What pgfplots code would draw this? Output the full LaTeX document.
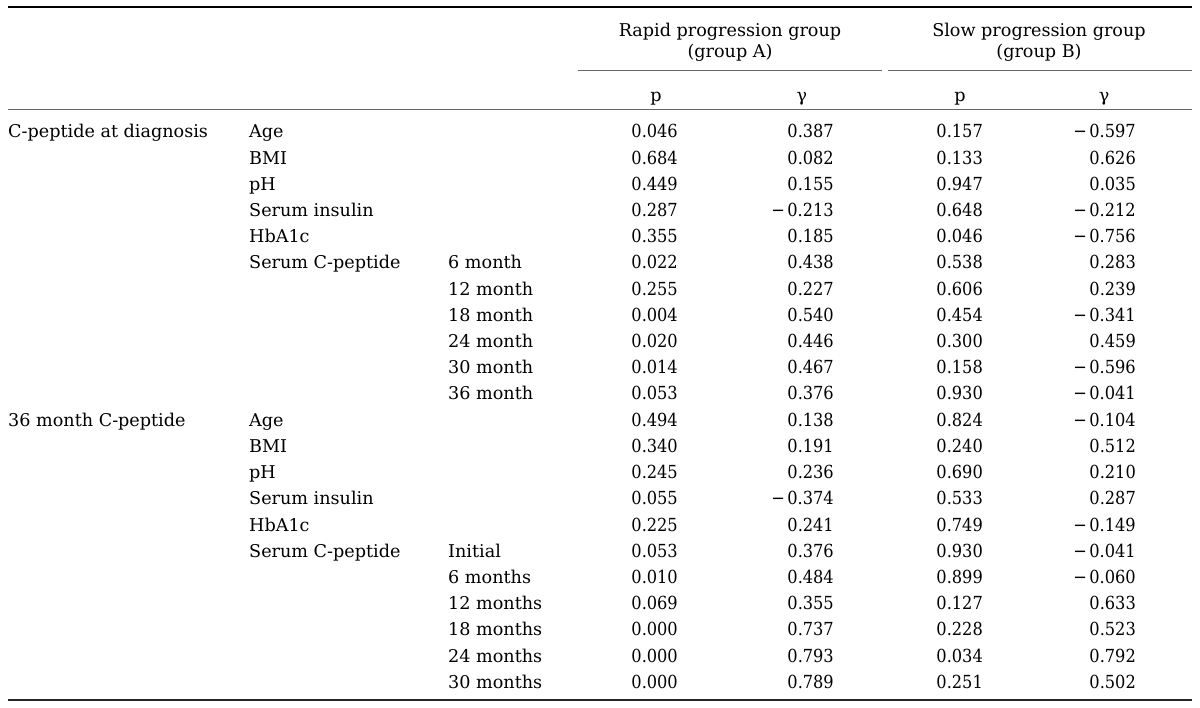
\documentclass[border=0pt]{standalone}
\usepackage{pgfplots}
\pgfplotsset{compat=1.18}
\usepackage{pgfplotstable}
\usepackage{fontspec}
\setmainfont{DejaVu Serif}
\newfontfamily\numfont{DejaVu Serif Condensed}

\pgfplotstableread[col sep=comma]{
y,c1,c2,c3,pA,gA,pB,gB
138.0,C-peptide at diagnosis,Age,,0.046,0.387,0.157,−\kern2.5pt0.597
164.2,,BMI,,0.684,0.082,0.133,0.626
190.4,,pH,,0.449,0.155,0.947,0.035
216.6,,Serum insulin,,0.287,−\kern2.5pt0.213,0.648,−\kern2.5pt0.212
242.8,,HbA1c,,0.355,0.185,0.046,−\kern2.5pt0.756
269.0,,Serum C-peptide,6 month,0.022,0.438,0.538,0.283
295.2,,,12 month,0.255,0.227,0.606,0.239
321.4,,,18 month,0.004,0.540,0.454,−\kern2.5pt0.341
347.6,,,24 month,0.020,0.446,0.300,0.459
373.8,,,30 month,0.014,0.467,0.158,−\kern2.5pt0.596
400.0,,,36 month,0.053,0.376,0.930,−\kern2.5pt0.041
426.2,36 month C-peptide,Age,,0.494,0.138,0.824,−\kern2.5pt0.104
452.4,,BMI,,0.340,0.191,0.240,0.512
478.6,,pH,,0.245,0.236,0.690,0.210
504.8,,Serum insulin,,0.055,−\kern2.5pt0.374,0.533,0.287
531.0,,HbA1c,,0.225,0.241,0.749,−\kern2.5pt0.149
557.2,,Serum C-peptide,Initial,0.053,0.376,0.930,−\kern2.5pt0.041
583.4,,,6 months,0.010,0.484,0.899,−\kern2.5pt0.060
609.6,,,12 months,0.069,0.355,0.127,0.633
635.8,,,18 months,0.000,0.737,0.228,0.523
662.0,,,24 months,0.000,0.793,0.034,0.792
688.2,,,30 months,0.000,0.789,0.251,0.502
}\tbl

\pgfplotstableread[col sep=comma]{
x,y,label
730,37,Rapid progression group
730,58,(group A)
1039,37,Slow progression group
1039,58,(group B)
656,102,p
802,102,γ
960,102,p
1104,102,γ
}\hdr

\begin{document}
\begin{tikzpicture}
\begin{axis}[
  width=1200pt, height=708pt, scale only axis,
  xmin=0, xmax=1200, ymin=0, ymax=708, y dir=reverse,
  axis lines=none, clip=false,
  every node near coord/.append style={inner sep=0pt, text=black, font=\fontsize{17.6}{20}\selectfont},
  txt/.style={only marks, mark=none, nodes near coords, point meta=explicit symbolic},
  num/.style={only marks, mark=none, nodes near coords, point meta=explicit symbolic,
    nodes near coords style={anchor=base east, font=\numfont\fontsize{18}{20}\selectfont}},
]
% invisible frame to fix the picture size
\addplot[draw=none] coordinates {(0,0) (1200,708)};
% rules
\addplot[black, line width=2pt] coordinates {(8,7) (1192,7)};
\addplot[black!60, line width=1pt] coordinates {(578,71) (882,71)};
\addplot[black!60, line width=1pt] coordinates {(888,71) (1192,71)};
\addplot[black!60, line width=1pt] coordinates {(8,110) (1192,110)};
\addplot[black!85, line width=1.3pt] coordinates {(8,700) (1192,700)};
% headers
\addplot[txt, nodes near coords style={anchor=base}] table[x=x, y=y, meta=label]{\hdr};
% body
\addplot[txt, nodes near coords style={anchor=base west}] table[x expr=8, y=y, meta=c1]{\tbl};
\addplot[txt, nodes near coords style={anchor=base west}] table[x expr=249, y=y, meta=c2]{\tbl};
\addplot[txt, nodes near coords style={anchor=base west}] table[x expr=448, y=y, meta=c3]{\tbl};
\addplot[num] table[x expr=678, y=y, meta=pA]{\tbl};
\addplot[num] table[x expr=834, y=y, meta=gA]{\tbl};
\addplot[num] table[x expr=983, y=y, meta=pB]{\tbl};
\addplot[num] table[x expr=1136, y=y, meta=gB]{\tbl};
\end{axis}
\end{tikzpicture}
\end{document}
